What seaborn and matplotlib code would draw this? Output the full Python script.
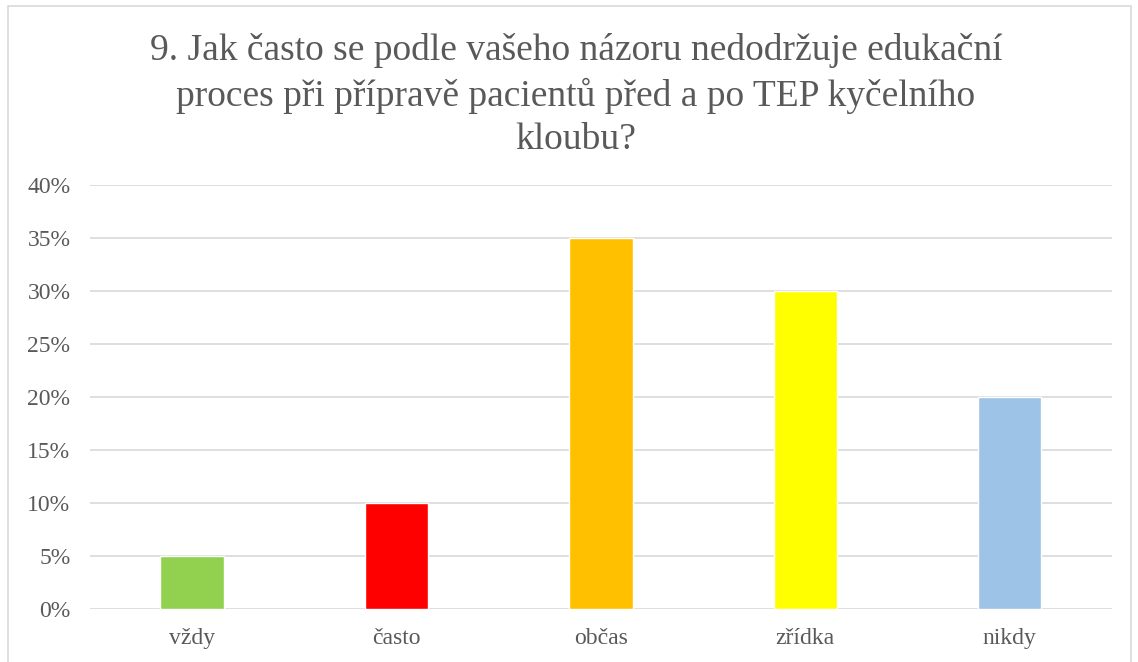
import matplotlib
matplotlib.use('Agg')
import matplotlib.pyplot as plt
import seaborn as sns
import pandas as pd
from matplotlib.patches import Rectangle
from matplotlib.ticker import PercentFormatter

# data
categories = ['vždy', 'často', 'občas', 'zřídka', 'nikdy']
values = [5, 10, 35, 30, 20]
colors = ['#92D050', '#FF0000', '#FFC000', '#FFFF00', '#9DC3E6']

title = ('9. Jak často se podle vašeho názoru nedodržuje edukační\n'
         'proces při přípravě pacientů před a po TEP kyčelního\n'
         'kloubu?')

sns.set_theme(style='white')
plt.rcParams['font.family'] = ['Liberation Serif', 'DejaVu Serif']

df = pd.DataFrame({'kategorie': categories, 'podil': values})

fig = plt.figure(figsize=(11.38, 6.62), dpi=100)
ax = fig.add_axes([0.079, 0.080, 0.898, 0.6405])

sns.barplot(data=df, x='kategorie', y='podil', hue='kategorie',
            palette=colors, legend=False, width=0.31, saturation=1, ax=ax)

ax.set_ylim(0, 40)
ax.set_yticks(range(0, 45, 5))
ax.yaxis.set_major_formatter(PercentFormatter(decimals=0))
ax.grid(axis='y', color='#D9D9D9', linewidth=1.2)
ax.set_axisbelow(True)
for s in ax.spines.values():
    s.set_visible(False)
ax.set_xlabel('')
ax.set_ylabel('')
ax.tick_params(axis='both', length=0, labelsize=17, colors='#595959')
ax.tick_params(axis='y', pad=14)
ax.tick_params(axis='x', pad=14)

fig.text(0.506, 0.950, title, ha='center', va='top', fontsize=27,
         color='#595959', linespacing=1.33)

# chart border
fig.patches.append(Rectangle((8 / 1138, -0.05), 1123 / 1138, 1 - 6 / 662 + 0.05,
                             transform=fig.transFigure, fill=False,
                             edgecolor='#D9D9D9', linewidth=1.2))

fig.savefig('out.png', dpi=100)
